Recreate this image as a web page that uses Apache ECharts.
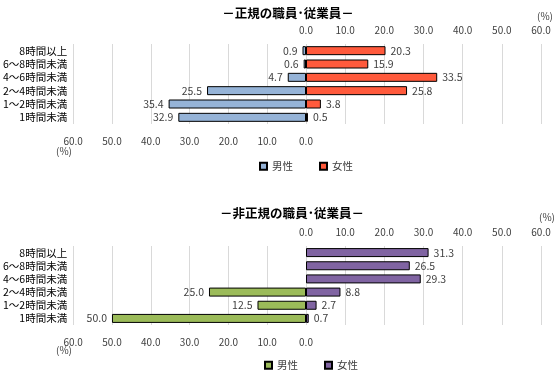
<!DOCTYPE html>
<html><head><meta charset="utf-8">
<script src="https://cdn.jsdelivr.net/npm/echarts@6/dist/echarts.min.js"></script>
<style>html,body{margin:0;padding:0;background:#fff}#c{width:560px;height:371px}</style>
</head><body><div id="c"></div>
<script>
var categories = ['8時間以上','6～8時間未満','4～6時間未満','2～4時間未満','1～2時間未満','1時間未満'];
var regularMale = [0.9, 0.6, 4.7, 25.5, 35.4, 32.9];
var regularFemale = [20.3, 15.9, 33.5, 25.8, 3.8, 0.5];
var nonRegularMale = [null, null, null, 25.0, 12.5, 50.0];
var nonRegularFemale = [31.3, 26.5, 29.3, 8.8, 2.7, 0.7];
var axisTicks = [0, 10, 20, 30, 40, 50, 60];
var titles = ['－正規の職員･従業員－', '－非正規の職員･従業員－'];
var legendNames = {m1:'男性', f1:'女性', m2:'男性', f2:'女性'};

var FONT = '"Noto Sans CJK JP", "Noto Sans", sans-serif';
var txt = '#404040';
var grids = [
  {left:72, width:234, top:44, height:80},
  {left:306, width:235, top:44, height:80},
  {left:72, width:234, top:246, height:79},
  {left:306, width:235, top:246, height:79}
];
function xAx(i, left) {
  return {
    type:'value', gridIndex:i, min:axisTicks[0], max:axisTicks[axisTicks.length-1], interval:10,
    inverse:left, position:left?'bottom':'top',
    axisLine:{show:false}, axisTick:{show:false},
    splitLine:{show:true, lineStyle:{color:'#D9D9D9', width:1}},
    axisLabel:{color:txt, fontSize:10, fontFamily:FONT, margin:left?12:9, formatter:function(v){return v.toFixed(1);}}
  };
}
function yAx(i, left) {
  return {
    type:'category', gridIndex:i, data:categories, inverse:true,
    axisLine:{show:false}, axisTick:{show:false},
    axisLabel:{show:left, interval:0, color:'#000', fontSize:10.5, fontFamily:FONT, margin:6}
  };
}
function ser(name, i, data, color, left) {
  return {
    name:name, type:'bar', xAxisIndex:i, yAxisIndex:i, data:data, barWidth:9,
    itemStyle:{color:color, borderColor:'#000', borderWidth:1},
    label:{show:true, position:left?'left':'right', distance:5, color:txt, fontSize:10.5, fontFamily:FONT,
      formatter:function(p){return p.value==null?'':p.value.toFixed(1);}},
    animation:false
  };
}
var chart = echarts.init(document.getElementById('c'));
chart.setOption({
  animation:false,
  grid:grids,
  xAxis:[xAx(0,true), xAx(1,false), xAx(2,true), xAx(3,false)],
  yAxis:[yAx(0,true), yAx(1,false), yAx(2,true), yAx(3,false)],
  title:[
    {text:titles[0], left:283, top:2, textAlign:'center', textStyle:{fontSize:12.5, fontWeight:'bold', color:'#000', fontFamily:FONT}},
    {text:titles[1], left:287, top:202, textAlign:'center', textStyle:{fontSize:12.5, fontWeight:'bold', color:'#000', fontFamily:FONT}}
  ],
  legend:[
    {data:['m1','f1'], left:254, top:156, itemWidth:7, itemHeight:7, itemGap:26, icon:'rect',
      formatter:function(n){return legendNames[n];}, textStyle:{fontSize:10.5, color:txt, fontFamily:FONT}, selectedMode:false},
    {data:['m2','f2'], left:259, top:355, itemWidth:7, itemHeight:7, itemGap:26, icon:'rect',
      formatter:function(n){return legendNames[n];}, textStyle:{fontSize:10.5, color:txt, fontFamily:FONT}, selectedMode:false}
  ],
  graphic:[
    {type:'text', left:537, top:11, style:{text:'(%)', fill:txt, font:'10px '+FONT}},
    {type:'text', left:56, top:146, style:{text:'(%)', fill:txt, font:'10px '+FONT}},
    {type:'text', left:539, top:212, style:{text:'(%)', fill:txt, font:'10px '+FONT}},
    {type:'text', left:56, top:345, style:{text:'(%)', fill:txt, font:'10px '+FONT}}
  ],
  series:[
    ser('m1', 0, regularMale, '#95B3D7', true),
    ser('f1', 1, regularFemale, '#FF5A3C', false),
    ser('m2', 2, nonRegularMale, '#9BBB59', true),
    ser('f2', 3, nonRegularFemale, '#8064A2', false)
  ]
});
</script></body></html>
